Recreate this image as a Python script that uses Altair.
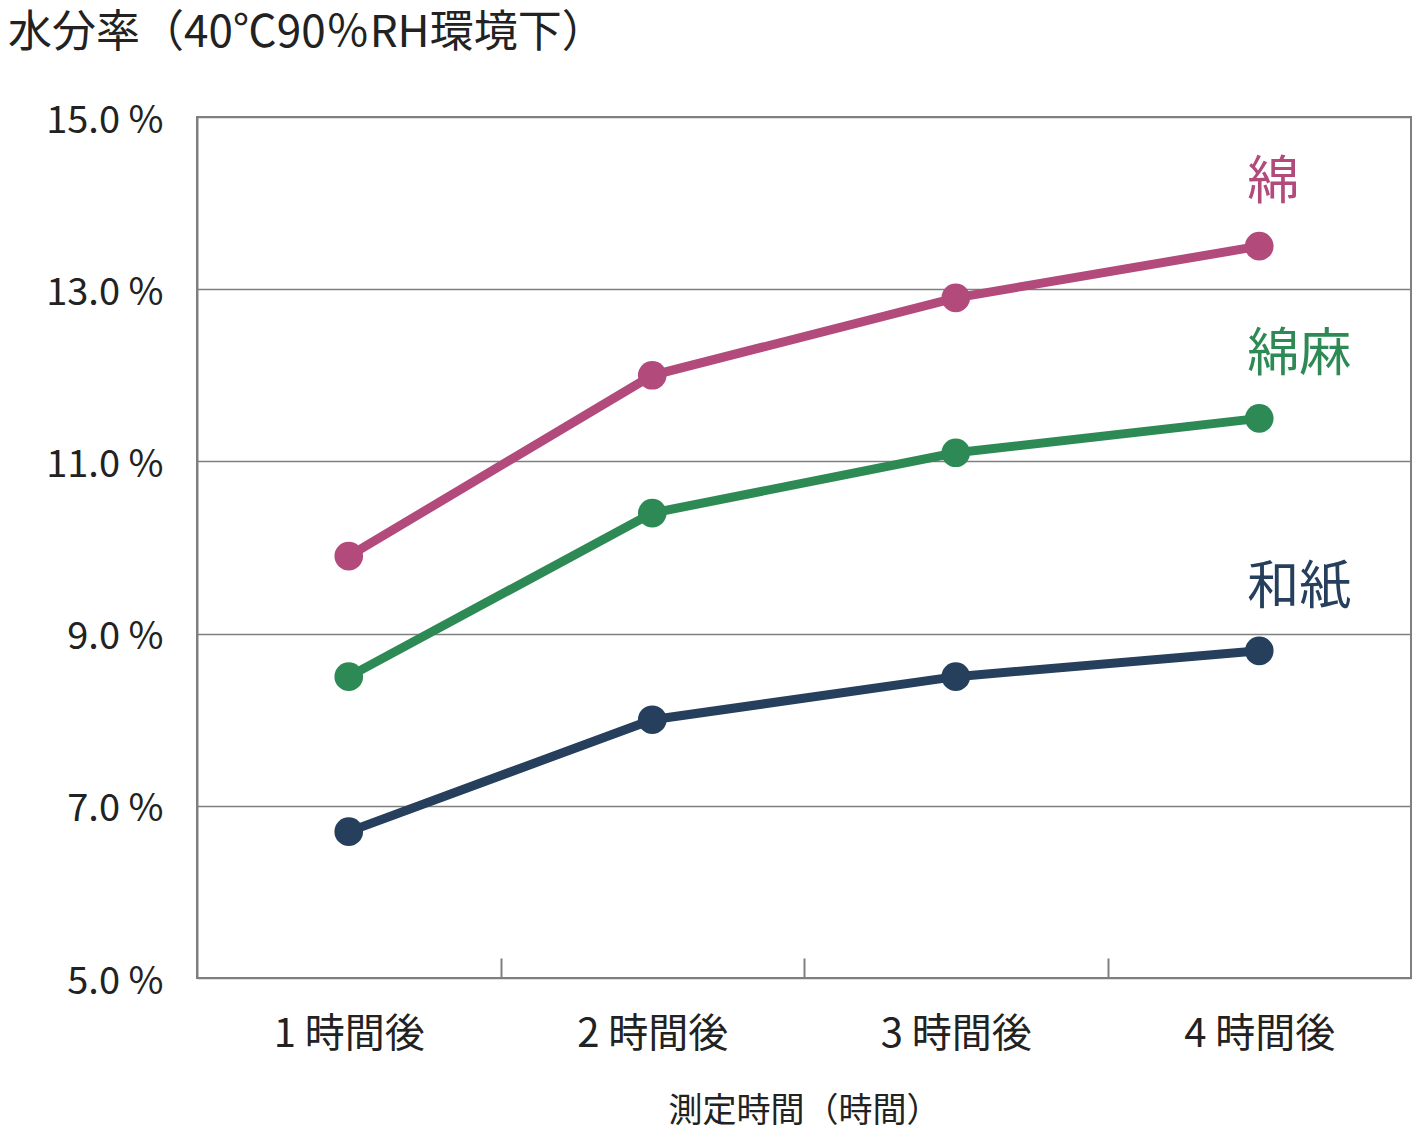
import pandas as pd
import altair as alt

hours = [1, 2, 3, 4]
series = ["綿", "綿麻", "和紙"]
cotton = [9.9, 12.0, 12.9, 13.5]
cotton_linen = [8.5, 10.4, 11.1, 11.5]
washi = [6.7, 8.0, 8.5, 8.8]
colors = ["#b24a7c", "#2e8a55", "#263f5c"]
boundaries = [1.5, 2.5, 3.5]
y_ticks = [5, 7, 9, 11, 13, 15]

FONT = "Noto Sans CJK JP"
W, H = 1214, 861

rows = []
for name, vals in zip(series, [cotton, cotton_linen, washi]):
    for h, v in zip(hours, vals):
        rows.append({"hour": h, "value": v, "series": name})
df = pd.DataFrame(rows)
last = df[df["hour"] == hours[-1]]

x_scale = alt.Scale(domain=[0.5, 4.5], nice=False, zero=False)
x_main = alt.X("hour:Q", scale=x_scale,
               axis=alt.Axis(values=hours, labelExpr="datum.value + ' 時間後'", ticks=False,
                             domain=False, grid=False, labelFont=FONT, labelFontSize=40,
                             labelColor="#222", labelPadding=36, title="測定時間（時間）",
                             titleFont=FONT, titleFontSize=34, titleFontWeight="normal",
                             titleColor="#222", titlePadding=40))
y_main = alt.Y("value:Q", scale=alt.Scale(domain=[5, 15], nice=False, zero=False),
               axis=alt.Axis(values=y_ticks, labelExpr="format(datum.value, '.1f') + ' %'",
                             ticks=False, domainColor="#7f7f7f", domainWidth=2,
                             gridColor="#7f7f7f", gridWidth=1.5, labelFont=FONT,
                             labelFontSize=38, labelColor="#222", labelPadding=34,
                             labelOffset=4, title=None))
color = alt.Color("series:N", scale=alt.Scale(domain=series, range=colors), legend=None)

base = alt.Chart(df)
lines = base.mark_line(strokeWidth=9).encode(x=x_main, y=y_main, color=color)
points = base.mark_circle(size=820, opacity=1).encode(
    x=alt.X("hour:Q", axis=None), y="value:Q", color=color)

# band-boundary ticks pointing up from the bottom edge
ticks_layer = alt.Chart(pd.DataFrame({"b": boundaries})).mark_point(opacity=0).encode(
    x=alt.X("b:Q", axis=alt.Axis(orient="top", values=boundaries, labels=False, domain=False,
                                 grid=False, tickSize=20, tickColor="#7f7f7f", tickWidth=2,
                                 offset=-H, title=None)),
    y=alt.datum(5),
)

labels = alt.Chart(last).mark_text(font=FONT, fontSize=52, align="left", baseline="alphabetic",
                                   dx=-12, dy=-47).encode(
    x=alt.X("hour:Q", axis=None), y="value:Q", text="series:N", color=color)

chart = alt.layer(lines, points, labels, ticks_layer).resolve_axis(x="independent").properties(
    width=W, height=H,
    autosize=alt.AutoSizeParams(type="none"),
    padding={"left": 189, "top": 109, "right": 1, "bottom": 156},
    title=alt.TitleParams("水分率（40℃90％RH環境下）", anchor="start", frame="group",
                          font=FONT, fontSize=44, fontWeight="normal", color="#222",
                          dx=-189, offset=46),
).configure_view(stroke="#7f7f7f", strokeWidth=2)

chart.save("out.html", embed_options={"renderer": "svg", "actions": False})
